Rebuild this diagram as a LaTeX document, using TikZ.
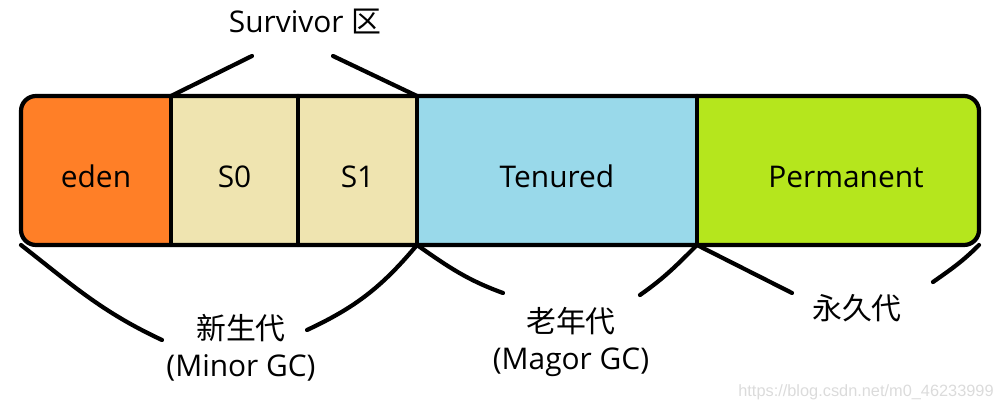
\documentclass[tikz,border=0pt]{standalone}
\usepackage{fontspec}
\setmainfont{Open Sans}
\newfontfamily\cjk{Noto Sans CJK SC}
\newfontfamily\wmfont{Liberation Sans}
\definecolor{paintOrange}{HTML}{FF7F27}
\definecolor{paintTan}{HTML}{EFE4B0}
\definecolor{paintBlue}{HTML}{99D9EA}
\definecolor{paintLime}{HTML}{B5E61D}

\begin{document}
\begin{tikzpicture}[line width=2.4pt, line cap=round, line join=round,
    seg/.style={minimum height=2.98cm, inner sep=0pt, outer sep=0pt,
      text height=0.70cm, text depth=0pt, font=\fontsize{17}{20}\selectfont},
    lbl/.style={align=center, font=\fontsize{17}{21}\selectfont}]
  \useasboundingbox (0,0) rectangle (20,8.2);
  % ---- the heap bar ----
  \begin{scope}
    \clip[rounded corners=0.3cm] (0.42,3.30) rectangle (19.58,6.28);
    \node[seg, fill=paintOrange, minimum width=3.00cm] (eden) at (1.92,4.79) {eden};
    \node[seg, fill=paintTan, minimum width=2.54cm] (s0) at (4.69,4.79) {S0};
    \node[seg, fill=paintTan, minimum width=2.38cm] (s1) at (7.15,4.79) {S1};
    \node[seg, fill=paintBlue, minimum width=5.60cm] (tenured) at (11.14,4.79) {Tenured};
    \node[seg, fill=paintLime, minimum width=5.64cm] (perm) at (16.76,4.79)
      {\hspace*{0.32cm}Permanent};
  \end{scope}
  \draw[rounded corners=0.3cm] (eden.north west) rectangle (perm.south east);
  \draw (eden.north east) -- (eden.south east);
  \draw (s0.north east) -- (s0.south east);
  \draw (s1.north east) -- (s1.south east);
  \draw (tenured.north east) -- (tenured.south east);
  % ---- survivor brace (top) ----
  \node[lbl] (survivor) at (6.10,7.76) {Survivor {\cjk 区}};
  \coordinate (survL) at (5.04,7.08);
  \coordinate (survR) at (6.66,7.08);
  \draw (s0.north west) -- (survL);
  \draw (s1.north east) -- (survR);
  % ---- generation braces (bottom) ----
  \node[lbl] (young) at (4.82,1.24) {{\cjk 新生代}\\(Minor GC)};
  \coordinate (youngL) at (3.24,1.40);
  \coordinate (youngR) at (6.14,1.60);
  \draw (eden.south west) to[out=-38, in=155] (youngL);
  \draw (s1.south east) to[out=-130, in=25] (youngR);
  \node[lbl] (old) at (11.42,1.36) {{\cjk 老年代}\\(Magor GC)};
  \coordinate (oldL) at (10.06,2.34);
  \coordinate (oldR) at (12.80,2.30);
  \draw (tenured.south west) to[out=-35, in=160] (oldL);
  \draw (tenured.south east) to[out=-135, in=35] (oldR);
  \node[lbl] (permgen) at (17.14,2.04) {{\cjk 永久代}};
  \coordinate (permL) at (15.84,2.34);
  \coordinate (permR) at (18.66,2.56);
  \draw (perm.south west) -- (permL);
  \draw (perm.south east) to[out=-135, in=35] (permR);
  \node[font=\wmfont\fontsize{9.3}{11}\selectfont, text=black!14] (mark) at (17.32,0.36)
    {https://blog.csdn.net/m0\_46233999};
\end{tikzpicture}
\end{document}
